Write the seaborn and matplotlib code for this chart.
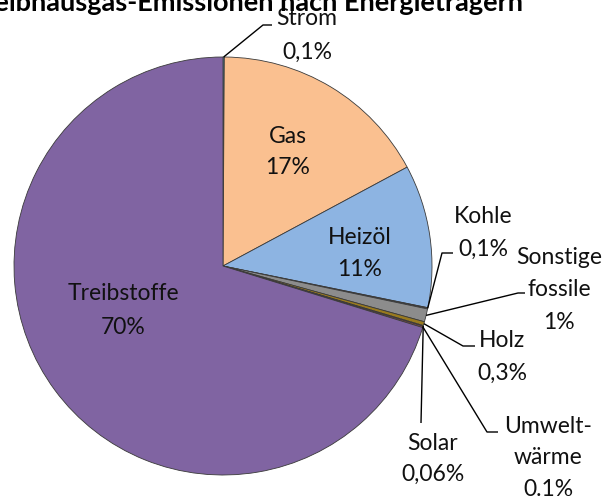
import matplotlib
matplotlib.use("Agg")
import matplotlib.pyplot as plt
import seaborn as sns
import numpy as np

# ---- data ----
categories = ["Strom", "Gas", "Heizöl", "Kohle", "Sonstige\nfossile", "Holz",
              "Solar", "Umwelt-\nwärme", "Treibstoffe"]
values = [0.1, 17, 11, 0.1, 1, 0.3, 0.06, 0.1, 70]
value_labels = ["0,1%", "17%", "11%", "0,1%", "1%", "0,3%", "0,06%", "0.1%", "70%"]
colors = ["#4BACC6", "#FAC090", "#8DB4E2", "#3F3F3F", "#8C8C8C", "#997A1F",
          "#FFC000", "#C0504D", "#8064A2"]
title = "Treibhausgas-Emissionen nach Energieträgern"

# ---- style ----
sns.set_theme(style="white")
plt.rcParams["font.family"] = ["Lato", "DejaVu Sans"]

W, H = 606, 498
fig = plt.figure(figsize=(W / 100, H / 100), dpi=100)
ax = fig.add_axes([0, 0, 1, 1])

CX, CY, R = 223, 266, 209  # pie center / radius in pixels


def px(x, y):
    return (x - CX) / R, (CY - y) / R


wedges, _ = ax.pie(values, colors=colors, startangle=90, counterclock=False,
                   radius=1, center=(0, 0),
                   wedgeprops=dict(edgecolor="#3a3a3a", linewidth=0.6))

ax.set_xlim(-CX / R, (W - CX) / R)
ax.set_ylim((CY - H) / R, CY / R)
ax.set_aspect("auto")
ax.axis("off")

# label layout (pixel positions): x center, first line y, line step
layout = {
    "Strom": (307, 18, 34),
    "Gas": (288, 136, 31),
    "Heizöl": (360, 237, 32),
    "Kohle": (483, 216, 33),
    "Sonstige\nfossile": (559, 257, 32.5),
    "Holz": (502, 340, 33),
    "Solar": (433, 443, 31),
    "Umwelt-\nwärme": (548, 426, 31.5),
    "Treibstoffe": (123, 293, 34),
}
# leader lines: elbow and end in pixels
leaders = {
    "Strom": ((263, 25), (272, 25)),
    "Kohle": ((442, 253), (453, 253)),
    "Sonstige\nfossile": ((518, 293), (525, 293)),
    "Holz": ((463, 346), (475, 346)),
    "Solar": ((421, 423), (421, 423)),
    "Umwelt-\nwärme": ((487, 432), (498, 432)),
}

for w, cat, vl in zip(wedges, categories, value_labels):
    lines = cat.split("\n") + [vl]
    x0, y0, step = layout[cat]
    for i, t in enumerate(lines):
        tx, ty = px(x0, y0 + i * step)
        ax.text(tx, ty, t, ha="center", va="center", fontsize=16.5, color="#111111")
    if cat in leaders:
        mid = np.deg2rad((w.theta1 + w.theta2) / 2)
        sx, sy = np.cos(mid) * w.r, np.sin(mid) * w.r
        (ex, ey), (fx, fy) = leaders[cat]
        e = px(ex, ey)
        f = px(fx, fy)
        ax.plot([sx, e[0], f[0]], [sy, e[1], f[1]], color="black", lw=1.0,
                solid_capstyle="butt", clip_on=False)

fig.text(523 / W, 1 - 11 / H, title, ha="right", va="baseline",
         fontsize=19.5, fontweight="bold", color="black")

fig.savefig("out.png", dpi=100, facecolor="white")
